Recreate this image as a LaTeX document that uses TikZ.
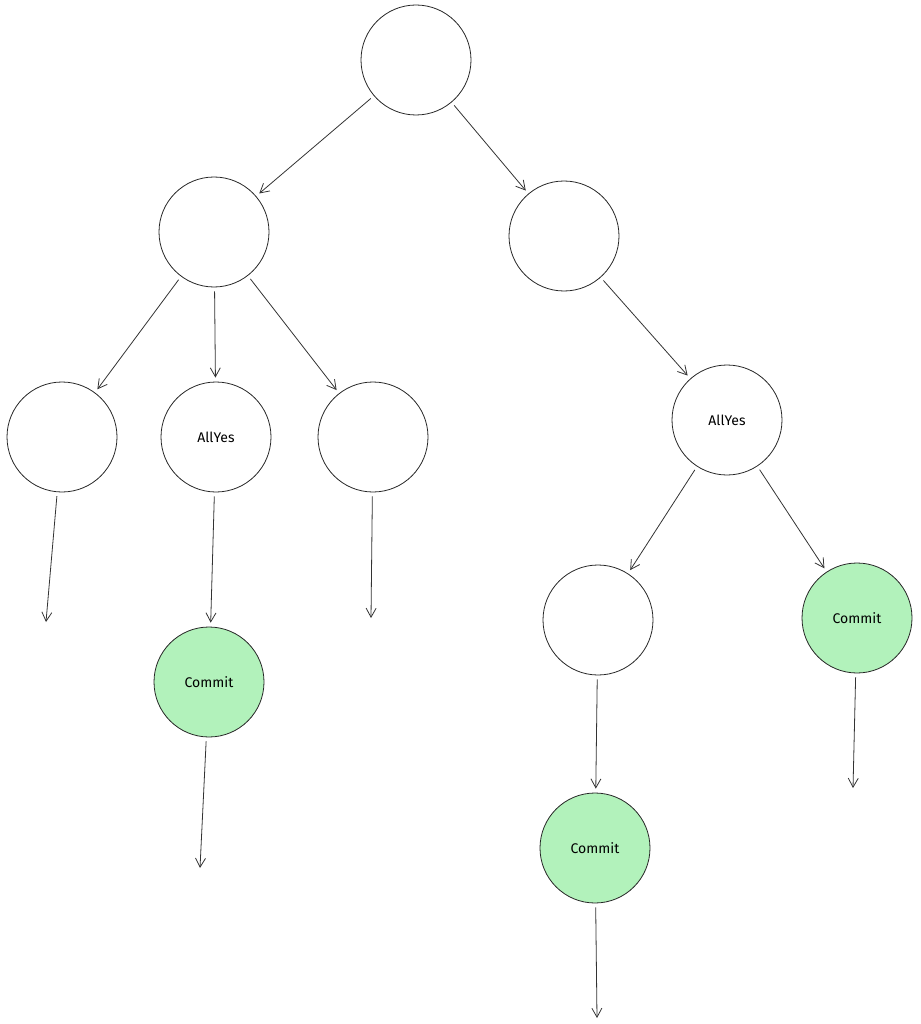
\documentclass[tikz,border=0pt]{standalone}
\usepackage{fontspec}
\setmainfont{Fira Sans}
\usetikzlibrary{arrows.meta}
\definecolor{grn}{HTML}{B2F2BB}
\begin{document}
\begin{tikzpicture}[x=1pt,y=-1pt,
  nd/.style={circle,draw=black!85,line width=0.8pt,minimum size=110pt,inner sep=0pt,font=\fontsize{14}{16}\selectfont},
  commitnd/.style={nd,fill=grn},
  ar/.style={draw=black!80,line width=0.8pt,-{Straight Barb[length=9pt,width=10pt]},shorten <=4pt,shorten >=4pt}]
\useasboundingbox (0,0) rectangle (920,1024);
\node[nd] (root) at (416,60) {};
\node[nd] (L) at (214,232) {};
\node[nd] (R) at (564,236) {};
\node[nd] (LL) at (62,437) {};
\node[nd] (LM) at (216,437) {AllYes};
\node[nd] (LR) at (373,437) {};
\node[nd] (RA) at (727,420) {AllYes};
\node[nd] (RAL) at (598,620) {};
\node[commitnd] (RAR) at (857,618) {Commit};
\node[commitnd] (LMC) at (209,682) {Commit};
\node[commitnd] (RALC) at (595,848) {Commit};
\coordinate (e1) at (46,622);
\coordinate (e2) at (371,618);
\coordinate (e3) at (200,868);
\coordinate (e4) at (597,1018);
\coordinate (e5) at (853,788);
\draw[ar] (root) -- (L);
\draw[ar] (root) -- (R);
\draw[ar] (L) -- (LL);
\draw[ar] (L) -- (LM);
\draw[ar] (L) -- (LR);
\draw[ar] (R) -- (RA);
\draw[ar] (LM) -- (LMC);
\draw[ar] (RA) -- (RAL);
\draw[ar] (RA) -- (RAR);
\draw[ar] (RAL) -- (RALC);
\draw[ar,shorten >=0pt] (LL) -- (e1);
\draw[ar,shorten >=0pt] (LR) -- (e2);
\draw[ar,shorten >=0pt] (LMC) -- (e3);
\draw[ar,shorten >=0pt] (RALC) -- (e4);
\draw[ar,shorten >=0pt] (RAR) -- (e5);
\end{tikzpicture}
\end{document}
